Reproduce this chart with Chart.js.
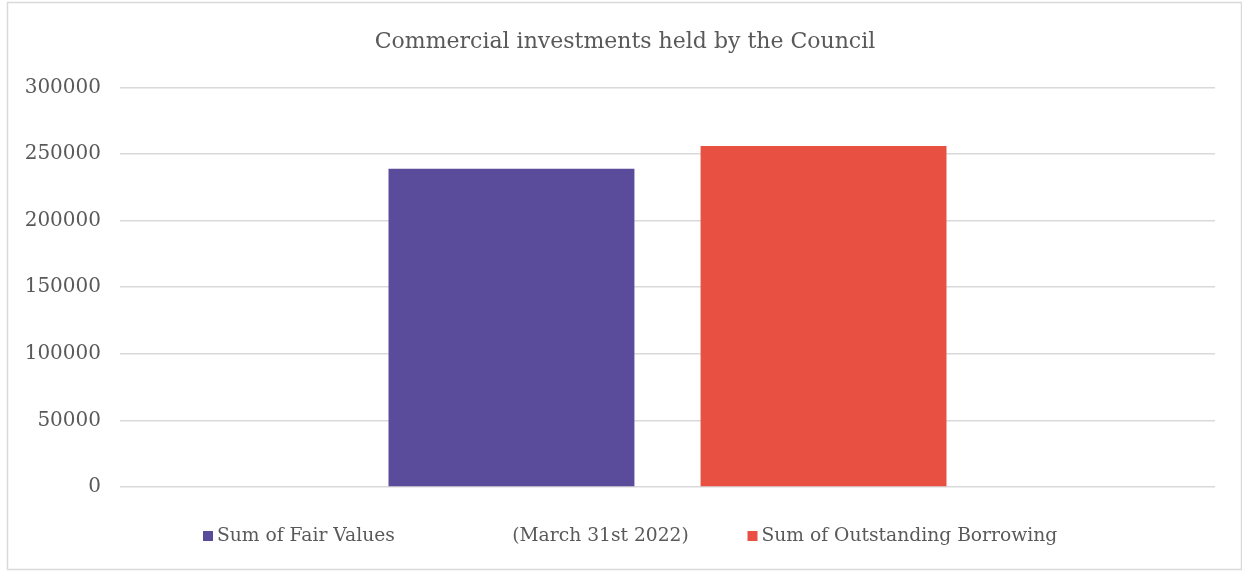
<!DOCTYPE html>
<html>
<head>
<meta charset="utf-8">
<script src="https://cdn.jsdelivr.net/npm/chart.js@4/dist/chart.umd.min.js"></script>
<style>
  html, body { margin: 0; padding: 0; background: #ffffff; }
  #wrap { width: 1242px; height: 571px; position: relative; }
</style>
</head>
<body>
<div id="wrap"><canvas id="chart" width="1242" height="571"></canvas></div>
<script>
// Chart data
const categories = ['(March 31st 2022)'];
const seriesNames = ['Sum of Fair Values', 'Sum of Outstanding Borrowing'];
const fairValues = [239000];
const outstandingBorrowing = [256000];
const yTicks = [0, 50000, 100000, 150000, 200000, 250000, 300000];

const seriesColors = ['#5A4B9B', '#E85042'];
const textColor = '#595959';
const gridColor = '#D9D9D9';
const serif = '"DejaVu Serif", Georgia, serif';

// Outer frame around the whole chart
const framePlugin = {
  id: 'frame',
  beforeDraw(chart) {
    const ctx = chart.ctx;
    ctx.save();
    ctx.strokeStyle = gridColor;
    ctx.lineWidth = 1.5;
    ctx.strokeRect(7.5, 2.5, chart.width - 8, chart.height - 4);
    ctx.restore();
  }
};

// Bottom row: category label with legend entries on each side
const bottomRowPlugin = {
  id: 'bottomRow',
  afterDraw(chart) {
    const ctx = chart.ctx;
    const xScale = chart.scales.x;
    const area = chart.chartArea;
    const rowY = area.bottom + 49;
    const centerX = xScale.getPixelForValue(0) - 67;
    ctx.save();
    ctx.font = '18.7px ' + serif;
    ctx.fillStyle = textColor;
    ctx.textBaseline = 'middle';
    ctx.textAlign = 'center';
    ctx.fillText(categories[0], centerX, rowY);

    const box = 10;
    const entries = chart.data.datasets.map((ds) => ({ label: ds.label, color: ds.backgroundColor }));
    const leftStart = area.left + 83;
    const rightStart = centerX + 147;
    [leftStart, rightStart].forEach((x0, i) => {
      const e = entries[i];
      ctx.fillStyle = e.color;
      ctx.fillRect(x0, rowY - box / 2, box, box);
      ctx.fillStyle = textColor;
      ctx.textAlign = 'left';
      ctx.fillText(e.label, x0 + box + 4, rowY);
    });
    ctx.restore();
  }
};

new Chart(document.getElementById('chart'), {
  type: 'bar',
  data: {
    labels: categories,
    datasets: [
      { label: seriesNames[0], data: fairValues, backgroundColor: seriesColors[0] },
      { label: seriesNames[1], data: outstandingBorrowing, backgroundColor: seriesColors[1] }
    ]
  },
  options: {
    responsive: false,
    animation: false,
    devicePixelRatio: 1,
    layout: { padding: { left: 8, right: 0, top: 0, bottom: 84 } },
    datasets: { bar: { categoryPercentage: 0.57, barPercentage: 0.788 } },
    plugins: {
      legend: { display: false },
      tooltip: { enabled: false },
      title: {
        display: true,
        text: 'Commercial investments held by the Council',
        color: textColor,
        font: { family: serif, size: 22, weight: 'normal' },
        padding: { top: 29, bottom: 32 }
      }
    },
    scales: {
      x: {
        ticks: { display: false },
        grid: { display: false },
        border: { display: false },
        afterFit(scale) { scale.height = 0; }
      },
      y: {
        min: 0,
        max: 300000,
        afterBuildTicks(scale) { scale.ticks = yTicks.map(v => ({ value: v })); },
        afterFit(scale) { scale.width = 112; },
        ticks: {
          color: textColor,
          padding: 19,
          font: { family: serif, size: 20 },
          callback: (v) => String(v)
        },
        grid: { color: gridColor, lineWidth: 1.5, drawTicks: false },
        border: { display: false }
      },
      // empty right-hand gutter between the plot and the frame
      gutter: {
        type: 'linear',
        position: 'right',
        ticks: { display: false },
        grid: { display: false },
        border: { display: false },
        afterFit(scale) { scale.width = 27; }
      }
    }
  },
  plugins: [framePlugin, bottomRowPlugin]
});
</script>
</body>
</html>
